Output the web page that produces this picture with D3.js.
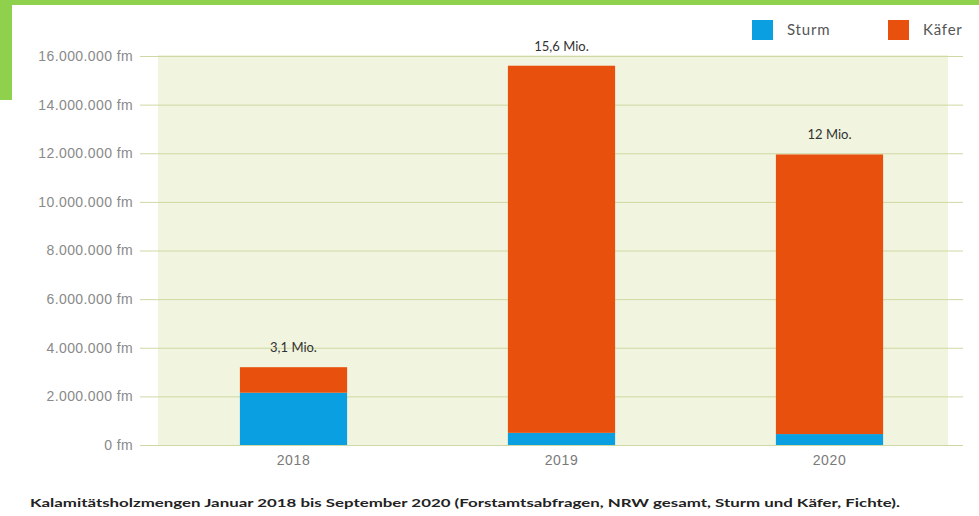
<!DOCTYPE html>
<html>
<head>
<meta charset="utf-8">
<script src="https://cdn.jsdelivr.net/npm/d3@7"></script>
<style>
  body { margin: 0; background: #fff; }
  svg { display: block; font-family: "Lato", "Open Sans", sans-serif; }
</style>
</head>
<body>
<div id="chart"></div>
<script>
// data
var years = ["2018", "2019", "2020"];
var sturm = [2150000, 500000, 450000];
var kaefer = [1050000, 15100000, 11500000];
var totalLabels = ["3,1 Mio.", "15,6 Mio.", "12 Mio."];
var seriesNames = ["Sturm", "Käfer"];
var yTicks = [0, 2000000, 4000000, 6000000, 8000000, 10000000, 12000000, 14000000, 16000000];
var caption = "Kalamitätsholzmengen Januar 2018 bis September 2020 (Forstamtsabfragen, NRW gesamt, Sturm und Käfer, Fichte).";

var width = 979, height = 516;
var colors = { "Sturm": "#0a9fe0", "Käfer": "#e8500e" };

var svg = d3.select("#chart").append("svg")
    .attr("width", width)
    .attr("height", height);

// green frame bits
svg.append("rect").attr("x", 0).attr("y", 0).attr("width", width).attr("height", 5).attr("fill", "#8fd04c");
svg.append("rect").attr("x", 0).attr("y", 0).attr("width", 12).attr("height", 100).attr("fill", "#8fd04c");

var x = d3.scaleBand().domain(years).range([159.5, 963.5]).paddingInner(0.6).paddingOuter(0.3);
var y = d3.scaleLinear().domain([0, 16000000]).range([445, 56]);

// plot background
svg.append("rect")
    .attr("x", 158).attr("y", 55)
    .attr("width", 790).attr("height", 390)
    .attr("fill", "#f1f4de");

var fmt = function(v) {
  return d3.format(",")(v).replace(/,/g, ".") + " fm";
};

var yAxis = svg.append("g")
    .attr("transform", "translate(140,0)")
    .call(d3.axisLeft(y).tickValues(yTicks).tickSize(-823).tickPadding(7).tickFormat(fmt));
yAxis.select(".domain").remove();
yAxis.selectAll(".tick line").attr("stroke", "#cfd8a2").attr("stroke-width", 1);
yAxis.selectAll(".tick text")
    .attr("fill", "#8a8a8a")
    .style("font-size", "14px")
    .style("letter-spacing", "0.4px");

var xAxis = svg.append("g")
    .attr("transform", "translate(0,445)")
    .call(d3.axisBottom(x).tickSize(0).tickPadding(10));
xAxis.select(".domain").remove();
xAxis.selectAll(".tick text")
    .attr("fill", "#7a7a7a")
    .style("font-size", "14px")
    .style("letter-spacing", "0.6px");

// stacked bars
var rows = years.map(function(yr, i) {
  return { year: yr, "Sturm": sturm[i], "Käfer": kaefer[i] };
});
var stack = d3.stack().keys(seriesNames)(rows);

svg.selectAll("g.layer").data(stack).enter().append("g")
    .attr("class", "layer")
    .attr("fill", function(d) { return colors[d.key]; })
  .selectAll("rect").data(function(d) { return d; }).enter().append("rect")
    .attr("x", function(d) { return x(d.data.year); })
    .attr("y", function(d) { return y(d[1]); })
    .attr("width", x.bandwidth())
    .attr("height", function(d) { return y(d[0]) - y(d[1]); });

// totals above bars
svg.selectAll("text.total").data(rows).enter().append("text")
    .attr("class", "total")
    .attr("x", function(d) { return x(d.year) + x.bandwidth() / 2; })
    .attr("y", function(d) { return y(d["Sturm"] + d["Käfer"]) - 15; })
    .attr("text-anchor", "middle")
    .attr("fill", "#333")
    .style("font-size", "13px")
    .text(function(d, i) { return totalLabels[i]; });

// legend
var legendX = [752, 888];
var legend = svg.selectAll("g.legend").data(seriesNames).enter().append("g")
    .attr("class", "legend")
    .attr("transform", function(d, i) { return "translate(" + legendX[i] + ",20)"; });
legend.append("rect")
    .attr("width", 21).attr("height", 20)
    .attr("fill", function(d) { return colors[d]; });
legend.append("text")
    .attr("x", 35).attr("y", 15)
    .attr("fill", "#555")
    .style("font-size", "15px")
    .style("letter-spacing", "0.8px")
    .text(function(d) { return d; });

// caption
svg.append("text")
    .attr("x", 30).attr("y", 507)
    .attr("fill", "#222")
    .style("font-size", "12px")
    .style("font-weight", "bold")
    .attr("textLength", 870)
    .attr("lengthAdjust", "spacingAndGlyphs")
    .text(caption);
</script>
</body>
</html>
